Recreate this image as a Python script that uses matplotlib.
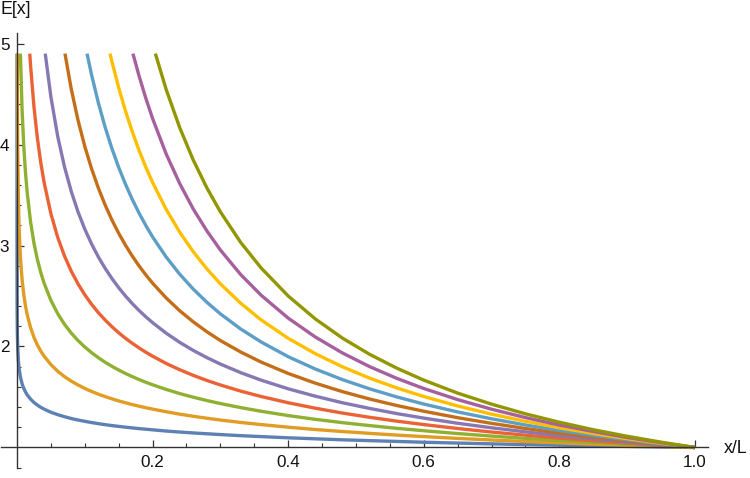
import matplotlib
matplotlib.use('Agg')
import matplotlib.pyplot as plt
from matplotlib.ticker import FixedLocator

plt.rcParams['font.family'] = ['Liberation Sans', 'DejaVu Sans']

# ---------------- data ----------------
x_grid = [1e-6, 1e-5, 1e-4, 0.0002, 0.0005, 0.001, 0.002, 0.003, 0.005, 0.0075,
          0.01, 0.0125, 0.015, 0.02, 0.025, 0.03, 0.035, 0.04, 0.05, 0.06,
          0.07, 0.08, 0.09, 0.10, 0.11, 0.12, 0.13, 0.14, 0.15, 0.16,
          0.17, 0.18, 0.19, 0.20, 0.22, 0.24, 0.26, 0.28, 0.30, 0.33,
          0.36, 0.40, 0.44, 0.48, 0.52, 0.56, 0.60, 0.65, 0.70, 0.75,
          0.80, 0.85, 0.90, 0.95, 1.00]

# x where each curve leaves the top of the plotted range (E = 4.9)
x_top = [1.25e-7, 0.000354, 0.00500, 0.01881, 0.04165, 0.07075, 0.1033, 0.1372, 0.1710, 0.2041]
E_top = 4.9

# each series is aligned to the END of x_grid
E_blue = [3.981, 3.162, 2.512, 2.344, 2.138, 1.995, 1.862, 1.788, 1.699, 1.631,
          1.585, 1.550, 1.522, 1.479, 1.446, 1.420, 1.398, 1.380, 1.349, 1.325,
          1.305, 1.287, 1.272, 1.259, 1.247, 1.236, 1.226, 1.217, 1.209, 1.201,
          1.194, 1.187, 1.181, 1.175, 1.163, 1.153, 1.144, 1.136, 1.128, 1.117,
          1.108, 1.096, 1.086, 1.076, 1.068, 1.060, 1.052, 1.044, 1.036, 1.029,
          1.023, 1.016, 1.011, 1.005, 1.000]
E_orange = [4.573, 3.981, 3.466, 3.196, 2.885, 2.661,
            2.512, 2.402, 2.316, 2.187, 2.091, 2.016, 1.955, 1.904, 1.821, 1.755,
            1.702, 1.657, 1.619, 1.585, 1.555, 1.528, 1.504, 1.482, 1.461, 1.443,
            1.425, 1.409, 1.394, 1.380, 1.354, 1.330, 1.309, 1.290, 1.272, 1.248,
            1.227, 1.201, 1.178, 1.158, 1.140, 1.123, 1.108, 1.090, 1.074, 1.059,
            1.046, 1.033, 1.021, 1.010, 1.000]
E_green = [4.341,
           3.981, 3.723, 3.525, 3.234, 3.024, 2.863, 2.734, 2.626, 2.457, 2.326,
           2.220, 2.133, 2.059, 1.995, 1.939, 1.889, 1.844, 1.804, 1.767, 1.733,
           1.702, 1.673, 1.646, 1.621, 1.575, 1.534, 1.498, 1.465, 1.435, 1.395,
           1.359, 1.316, 1.279, 1.246, 1.217, 1.190, 1.166, 1.138, 1.113, 1.090,
           1.069, 1.050, 1.032, 1.016, 1.000]
E_red = [4.783, 4.373, 4.066, 3.823, 3.624, 3.315, 3.081,
         2.897, 2.746, 2.620, 2.512, 2.418, 2.335, 2.262, 2.196, 2.136, 2.081,
         2.032, 1.986, 1.943, 1.904, 1.832, 1.770, 1.714, 1.664, 1.619, 1.558,
         1.505, 1.443, 1.389, 1.341, 1.299, 1.261, 1.227, 1.188, 1.153, 1.122,
         1.093, 1.067, 1.043, 1.021, 1.000]
E_purple = [4.472, 4.082,
            3.780, 3.536, 3.333, 3.162, 3.015, 2.887, 2.774, 2.673, 2.582, 2.500,
            2.425, 2.357, 2.294, 2.236, 2.132, 2.041, 1.961, 1.890, 1.826, 1.741,
            1.667, 1.581, 1.508, 1.443, 1.387, 1.336, 1.291, 1.240, 1.195, 1.155,
            1.118, 1.085, 1.054, 1.026, 1.000]
E_brown = [4.550, 4.240,
           3.981, 3.760, 3.569, 3.401, 3.253, 3.121, 3.003,
           2.896, 2.798, 2.709, 2.627, 2.481, 2.354, 2.244, 2.146, 2.059, 1.945,
           1.846, 1.733, 1.637, 1.553, 1.480, 1.416, 1.359, 1.295, 1.239, 1.188,
           1.143, 1.102, 1.065, 1.031, 1.000]
E_lightblue = [4.689, 4.412, 4.171, 3.960, 3.773, 3.607,
               3.457, 3.321, 3.198, 3.085, 2.886, 2.716, 2.568, 2.438, 2.323, 2.173,
               2.045, 1.899, 1.777, 1.672, 1.581, 1.501, 1.430, 1.352, 1.284, 1.223,
               1.169, 1.120, 1.077, 1.037, 1.000]
E_yellow = [4.821, 4.562, 4.332,
            4.127, 3.942, 3.776, 3.624, 3.358, 3.132, 2.938, 2.769, 2.620, 2.428,
            2.264, 2.081, 1.929, 1.799, 1.687, 1.590, 1.505, 1.411, 1.330, 1.259,
            1.195, 1.139, 1.088, 1.042, 1.000]
E_magenta = [4.680, 4.458, 4.257, 3.907, 3.613, 3.361, 3.145, 2.955, 2.712,
             2.508, 2.281, 2.094, 1.936, 1.801, 1.685, 1.584, 1.474, 1.379, 1.296,
             1.222, 1.158, 1.099, 1.047, 1.000]
E_olive = [4.545, 4.167, 3.846, 3.571, 3.333, 3.030,
           2.778, 2.500, 2.273, 2.083, 1.923, 1.786, 1.667, 1.538, 1.429, 1.333,
           1.250, 1.176, 1.111, 1.053, 1.000]

series = [E_blue, E_orange, E_green, E_red, E_purple,
          E_brown, E_lightblue, E_yellow, E_magenta, E_olive]
colors = ['#5E81B5', '#E19C24', '#8FB032', '#EB6235', '#8778B3',
          '#C56E1A', '#5D9EC7', '#FFBF00', '#A5609D', '#929600']

x_major = [0.2, 0.4, 0.6, 0.8, 1.0]
x_labels = ['0.2', '0.4', '0.6', '0.8', '1.0']
y_major = [2, 3, 4, 5]
y_labels = ['2', '3', '4', '5']

# ---------------- figure ----------------
W, H = 750, 478
fig = plt.figure(figsize=(W / 100, H / 100), dpi=100)
ax = fig.add_axes([1 / W, 10 / H, 707 / W, 435 / H])
ax.set_xlim(-0.0236, 1.0192)
ax.set_ylim(0.797, 5.104)

for vals, col, xt in zip(series, colors, x_top):
    xs = [xt] + x_grid[-len(vals):]
    ys = [E_top] + vals
    ax.plot(xs, ys, color=col, lw=2.4, solid_capstyle='butt',
            solid_joinstyle='round', clip_on=True)

axcol = '#333333'
for s in ['top', 'right']:
    ax.spines[s].set_visible(False)
ax.spines['left'].set_position(('data', 0))
ax.spines['bottom'].set_position(('data', 1))
for s in ['left', 'bottom']:
    ax.spines[s].set_color(axcol)
    ax.spines[s].set_linewidth(1.0)

ax.xaxis.set_major_locator(FixedLocator(x_major))
ax.set_xticklabels(x_labels)
ax.xaxis.set_minor_locator(FixedLocator([0.05 * i for i in range(1, 20) if i % 4 != 0]))
ax.yaxis.set_major_locator(FixedLocator(y_major))
ax.set_yticklabels(y_labels)
ax.yaxis.set_minor_locator(FixedLocator([0.8 + 0.2 * i for i in range(22) if (i - 1) % 5 != 0]))

ax.tick_params(which='major', direction='in', length=5, width=0.9, color=axcol,
               labelsize=12.3, labelcolor='#111111', pad=5.5)
ax.tick_params(which='minor', direction='in', length=2.8, width=0.8, color=axcol)

fig.text(1 / W, 1 - 1 / H, 'E[x]', ha='left', va='top', fontsize=12.8, color='#111111')
fig.text(724 / W, (H - 448.5) / H, 'x/L', ha='left', va='center', fontsize=12.8, color='#111111')

fig.savefig('out.png', dpi=100)
